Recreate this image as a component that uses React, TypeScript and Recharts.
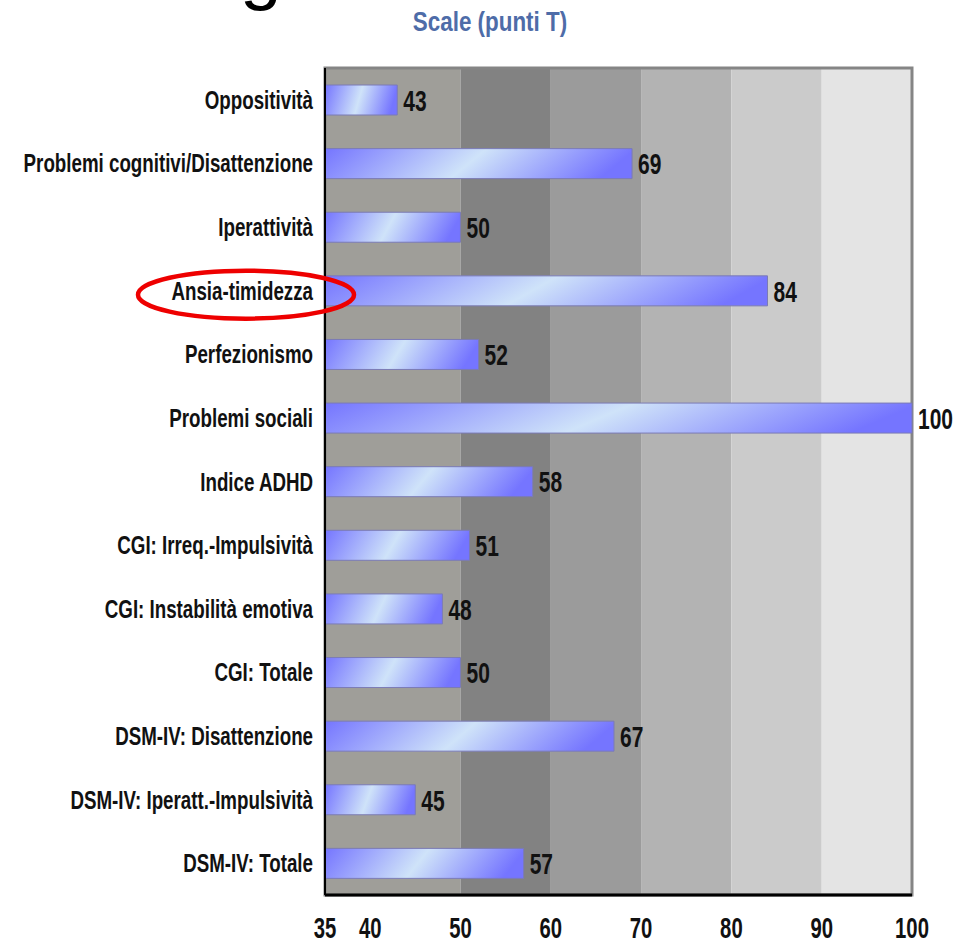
import React from 'react';
import { Bar, BarChart, LabelList, ReferenceArea, XAxis, YAxis } from 'recharts';

const categories = [
  'Oppositività',
  'Problemi cognitivi/Disattenzione',
  'Iperattività',
  'Ansia-timidezza',
  'Perfezionismo',
  'Problemi sociali',
  'Indice ADHD',
  'CGI: Irreq.-Impulsività',
  'CGI: Instabilità emotiva',
  'CGI: Totale',
  'DSM-IV: Disattenzione',
  'DSM-IV: Iperatt.-Impulsività',
  'DSM-IV: Totale',
];
const scores = [43, 69, 50, 84, 52, 100, 58, 51, 48, 50, 67, 45, 57];
const xTicks = [35, 40, 50, 60, 70, 80, 90, 100];
const bandEdges = [35, 50, 60, 70, 80, 90, 100];
const bandColors = ['#9f9e99', '#828282', '#9b9b9b', '#b3b3b3', '#cbcbcb', '#e4e4e4'];
const highlighted = 'Ansia-timidezza';

const chartData = categories.map((name, i) => ({ name, score: scores[i] }));

const FONT = '"Liberation Sans", Arial, sans-serif';

// condensed text: regular glyphs squeezed horizontally around the anchor point
const NarrowText = ({ x, y, anchor = 'start', size, weight = 'normal', scale, fill = '#111', children }: any) => (
  <text
    transform={`translate(${x},${y}) scale(${scale},1)`}
    textAnchor={anchor}
    dy="0.36em"
    fontFamily={FONT}
    fontSize={size}
    fontWeight={weight}
    fill={fill}
  >
    {children}
  </text>
);

const CategoryTick = (props: any) => {
  const { x, y, payload } = props;
  const right = x - 4;
  return (
    <g>
      {payload.value === highlighted && (
        <ellipse cx={right - 67} cy={y + 4} rx={108} ry={24} fill="none" stroke="#ee0000" strokeWidth={4.5} />
      )}
      <NarrowText x={right} y={y} anchor="end" size={25} weight="bold" scale={0.75}>
        {payload.value}
      </NarrowText>
    </g>
  );
};

const ScoreTick = (props: any) => {
  const { x, y, payload } = props;
  return (
    <NarrowText x={x} y={y + 25} anchor="middle" size={29} weight="bold" scale={0.7}>
      {payload.value}
    </NarrowText>
  );
};

const ValueLabel = (props: any) => {
  const { x, y, width, height, value } = props;
  return (
    <NarrowText x={x + width + 6} y={y + height / 2} size={30} weight="bold" scale={0.7}>
      {value}
    </NarrowText>
  );
};

export default function App() {
  return (
    <div style={{ position: 'absolute', left: 0, top: 0, width: 971, height: 948, background: '#fff' }}>
      <svg width={971} height={40} style={{ position: 'absolute', left: 0, top: 0 }}>
        <text x={240} y={-4} fontFamily={FONT} fontSize={75} fill="#000">
          g
        </text>
        <NarrowText x={490} y={21} anchor="middle" size={27} weight="bold" scale={0.83} fill="#4e6ca8">
          Scale (punti T)
        </NarrowText>
      </svg>
      <BarChart
        width={971}
        height={948}
        data={chartData}
        layout="vertical"
        margin={{ top: 68, right: 59, bottom: 0, left: 0 }}
        barSize={30}
      >
        <defs>
          <linearGradient id="barFill" x1="0" y1="0" x2="1" y2="0.12">
            <stop offset="0%" stopColor="#7575ff" />
            <stop offset="52%" stopColor="#cfe3f9" />
            <stop offset="100%" stopColor="#7575ff" />
          </linearGradient>
        </defs>
        {bandColors.map((color, i) => (
          <ReferenceArea
            key={color}
            x1={bandEdges[i]}
            x2={bandEdges[i + 1]}
            fill={color}
            fillOpacity={1}
            stroke="none"
            ifOverflow="hidden"
          />
        ))}
        <ReferenceArea x1={35} x2={100} fill="none" stroke="#858585" strokeWidth={3} />
        <XAxis
          type="number"
          domain={[35, 100]}
          ticks={xTicks}
          height={53}
          tickLine={false}
          axisLine={{ stroke: '#000', strokeWidth: 3 }}
          tick={<ScoreTick />}
          interval={0}
        />
        <YAxis
          type="category"
          dataKey="name"
          width={325}
          tickLine={false}
          axisLine={{ stroke: '#000', strokeWidth: 2 }}
          tick={<CategoryTick />}
          interval={0}
        />
        <Bar dataKey="score" fill="url(#barFill)" stroke="#7b7bb5" strokeWidth={1} isAnimationActive={false}>
          <LabelList dataKey="score" content={<ValueLabel />} />
        </Bar>
      </BarChart>
    </div>
  );
}
